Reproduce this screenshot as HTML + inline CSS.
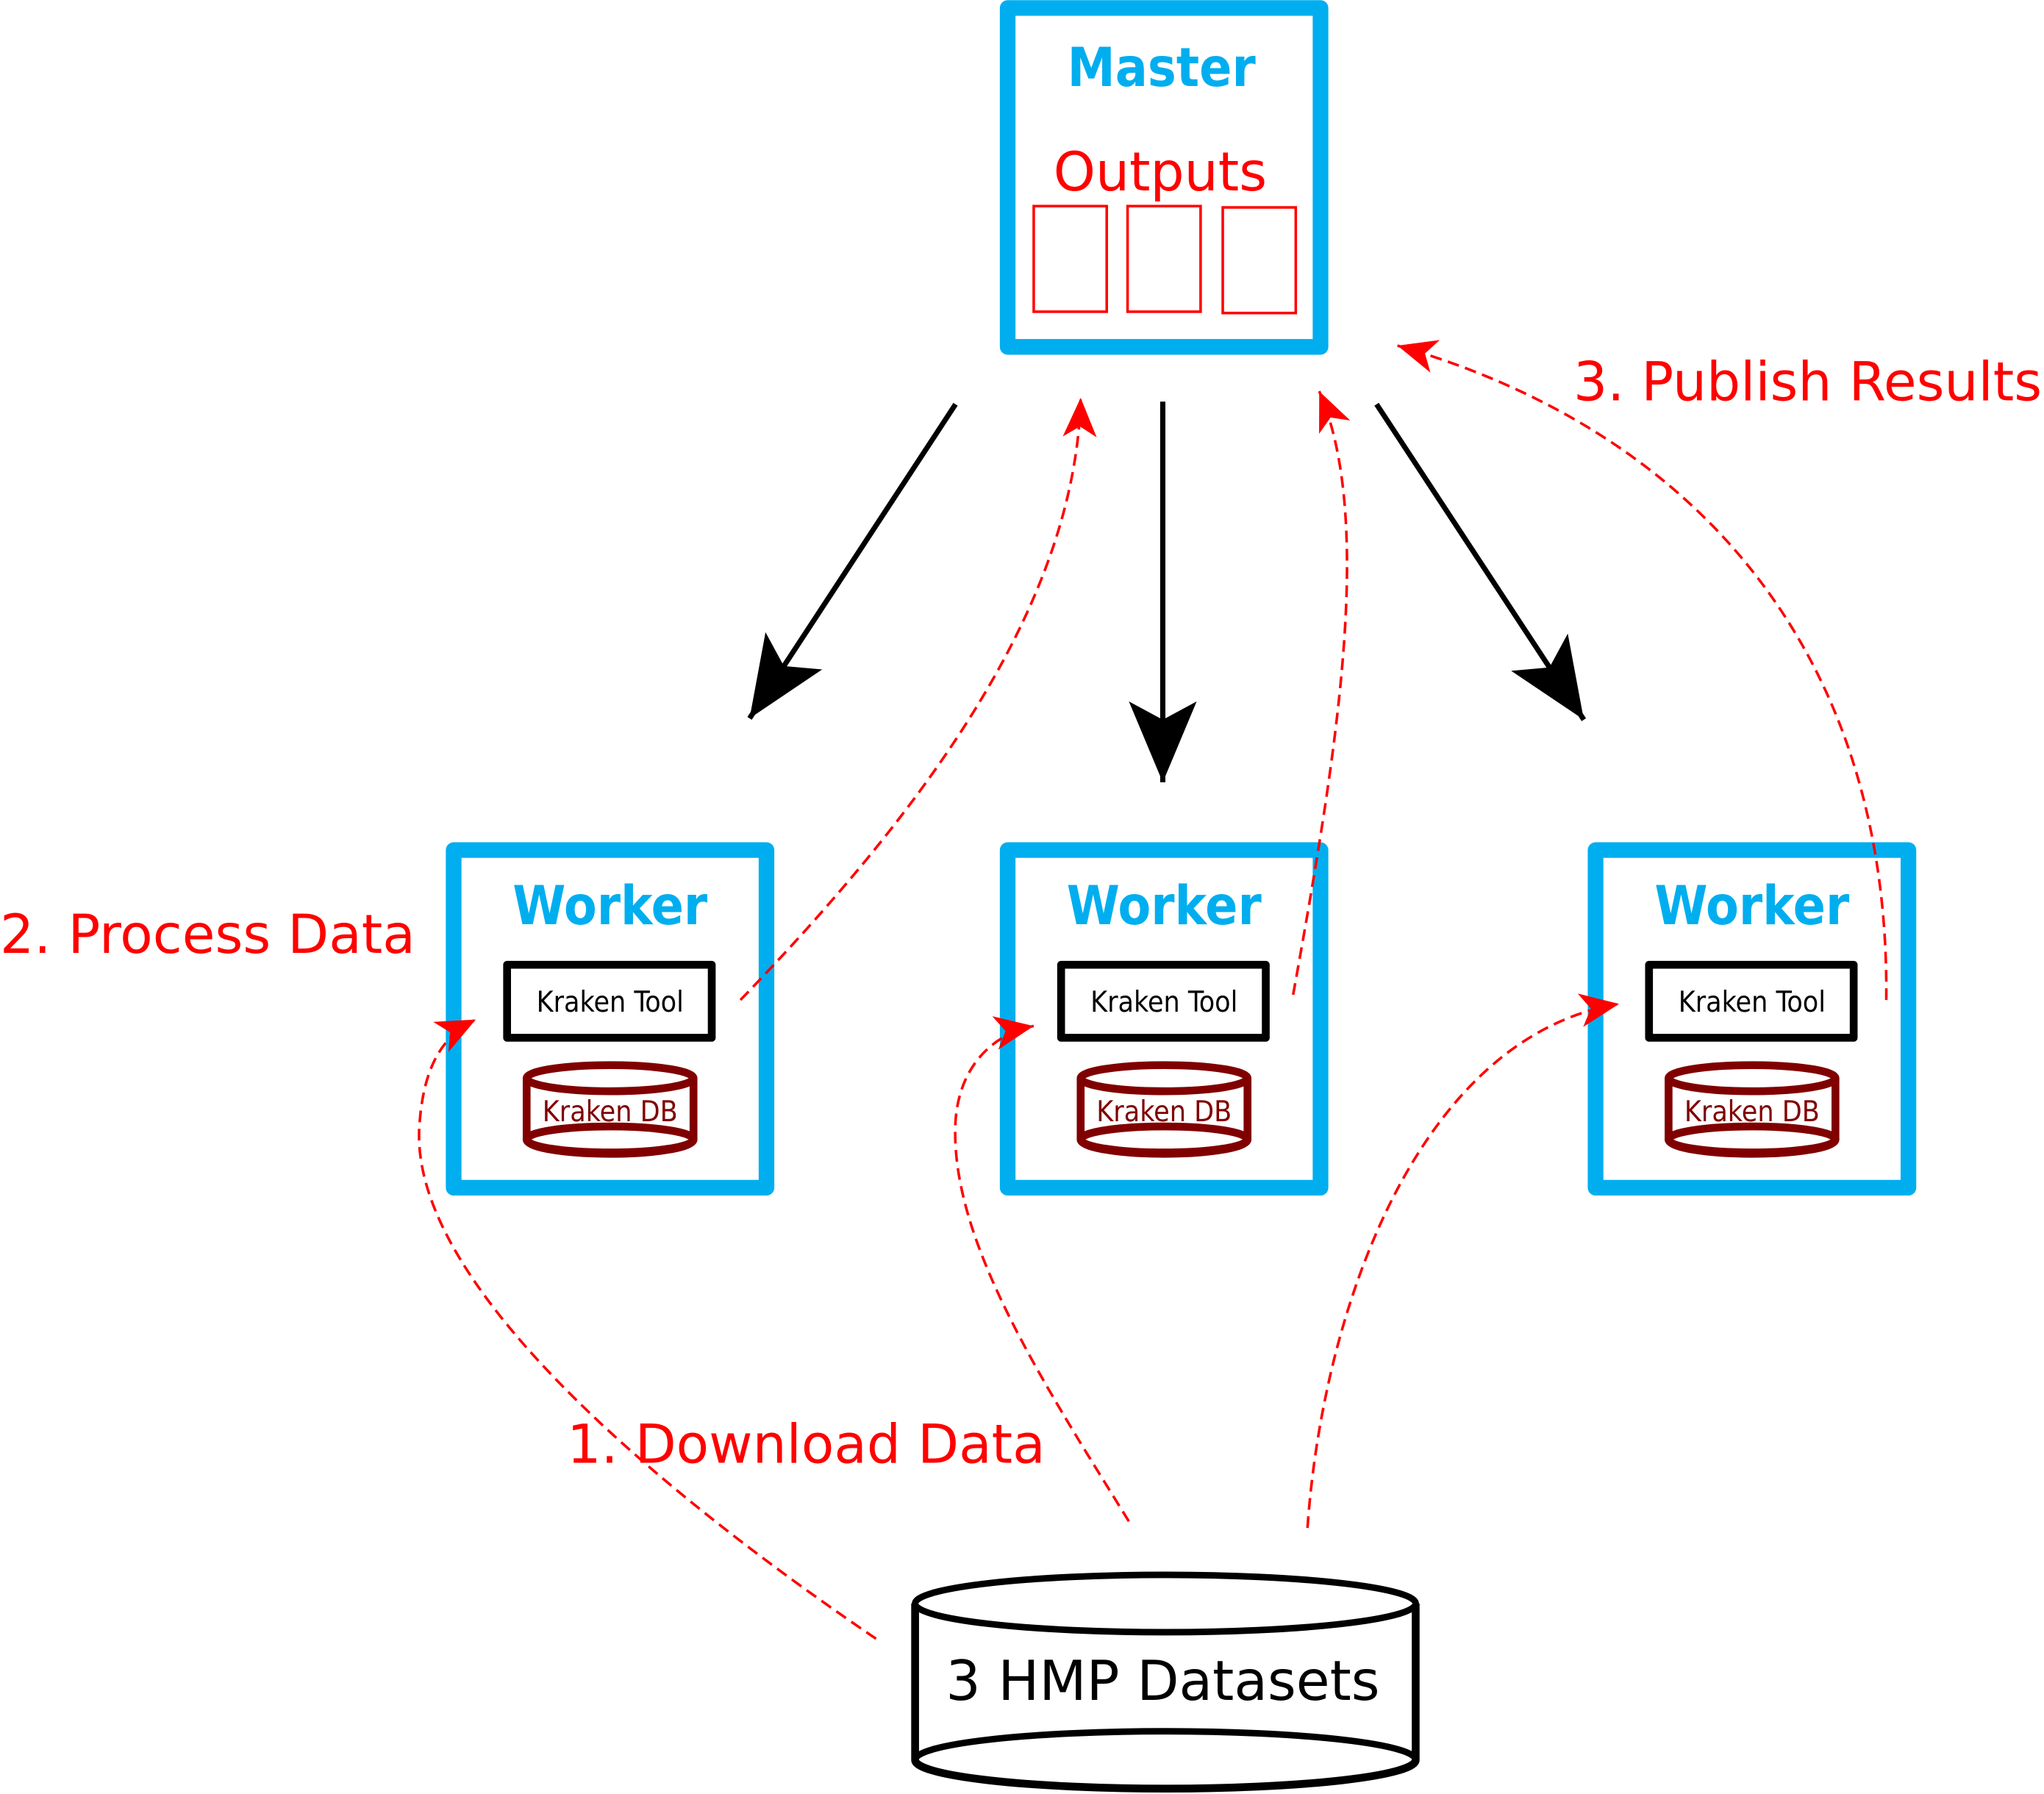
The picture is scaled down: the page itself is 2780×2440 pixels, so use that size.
<!DOCTYPE html>
<html><head><meta charset="utf-8"><style>html,body{margin:0;padding:0;background:#fff}svg{display:block}</style></head>
<body>
<svg width="2780" height="2440" viewBox="0 0 1568 1376" xmlns="http://www.w3.org/2000/svg" font-family="'DejaVu Sans','Liberation Sans',sans-serif">
<defs>
<marker id="bk" markerUnits="userSpaceOnUse" orient="auto" markerWidth="80" markerHeight="80" viewBox="-70 -40 80 80" refX="0" refY="0" overflow="visible">
<path d="M0,0 L-62,-26 L-48,0 L-62,26 Z" fill="#000"/></marker>
<marker id="rd" markerUnits="userSpaceOnUse" orient="auto" markerWidth="40" markerHeight="40" viewBox="-30 -20 40 40" refX="0" refY="0" overflow="visible">
<path d="M0,0 L-30,-13 L-22,0 L-30,13 Z" fill="#f00"/></marker>
</defs>
<rect width="1568" height="1376" fill="#fff"/>
<rect x="773" y="6" width="240" height="260" fill="none" stroke="#00AEEF" stroke-width="12" stroke-linejoin="round"/>
<text x="891" y="66" font-size="41" font-weight="bold" font-family="'DejaVu Sans Condensed','DejaVu Sans',sans-serif" font-stretch="condensed" fill="#00AEEF" text-anchor="middle">Master</text>
<text x="890" y="146" font-size="41" fill="#f00" text-anchor="middle">Outputs</text>
<g fill="none" stroke="#f00" stroke-width="2">
<rect x="793" y="158" width="56" height="81"/><rect x="865" y="158" width="56" height="81"/><rect x="938" y="159" width="56" height="81"/></g>
<g id="w">
<rect x="348" y="652" width="240" height="259" fill="none" stroke="#00AEEF" stroke-width="12" stroke-linejoin="round"/>
<text x="468" y="709" font-size="41" font-weight="bold" font-family="'DejaVu Sans Condensed','DejaVu Sans',sans-serif" font-stretch="condensed" fill="#00AEEF" text-anchor="middle">Worker</text>
<rect x="389" y="740" width="157" height="56" fill="#fff" stroke="#000" stroke-width="6" stroke-linejoin="round"/>
<text x="468" y="776" font-size="22" font-family="'DejaVu Sans Condensed','DejaVu Sans',sans-serif" font-stretch="condensed" fill="#000" text-anchor="middle">Kraken Tool</text>
<path d="M404,827 L404,874 A64,11 0 0 0 532,874 L532,827" fill="none" stroke="#800000" stroke-width="6"/>
<ellipse cx="468" cy="827" rx="64" ry="10" fill="#fff" stroke="#800000" stroke-width="6"/>
<ellipse cx="468" cy="874" rx="64" ry="10" fill="none" stroke="#800000" stroke-width="6"/>
<text x="468" y="860" font-size="22" font-family="'DejaVu Sans Condensed','DejaVu Sans',sans-serif" font-stretch="condensed" fill="#800000" text-anchor="middle">Kraken DB</text>
</g>
<use href="#w" x="425"/>
<use href="#w" x="876"/>
<g stroke="#000" stroke-width="4" fill="none">
<line x1="733" y1="310" x2="575" y2="551" marker-end="url(#bk)"/>
<line x1="892" y1="308" x2="892" y2="600" marker-end="url(#bk)"/>
<line x1="1056" y1="310" x2="1215" y2="552" marker-end="url(#bk)"/>
</g>
<path d="M702,1230 L702,1350 A192,22 0 0 0 1086,1350 L1086,1230" fill="#fff" stroke="#000" stroke-width="6"/>
<ellipse cx="894" cy="1230" rx="192" ry="22" fill="#fff" stroke="#000" stroke-width="5"/>
<ellipse cx="894" cy="1350" rx="192" ry="22" fill="none" stroke="#000" stroke-width="5"/>
<text x="892" y="1304" font-size="42" fill="#000" text-anchor="middle">3 HMP Datasets</text>
<g stroke="#f00" stroke-width="2" fill="none" stroke-dasharray="9,5">
<path d="M672,1257 C500,1140 310,980 322,860 C326,810 345,792 365,782" marker-end="url(#rd)"/>
<path d="M866,1167 C800,1060 728,950 733,860 C736,815 765,792 793,787" marker-end="url(#rd)"/>
<path d="M1003,1172 C1015,1000 1090,795 1242,770" marker-end="url(#rd)"/>
<path d="M568,767 C700,630 825,470 829,305" marker-end="url(#rd)"/>
<path d="M992,763 C1025,580 1055,400 1012,300" marker-end="url(#rd)"/>
<path d="M1447,767 C1450,500 1300,330 1072,265" marker-end="url(#rd)"/>
</g>
<g font-size="41" fill="#f00">
<text x="1207" y="307">3. Publish Results</text>
<text x="0" y="731">2. Process Data</text>
<text x="435" y="1122">1. Download Data</text>
</g>
</svg>
</body></html>
